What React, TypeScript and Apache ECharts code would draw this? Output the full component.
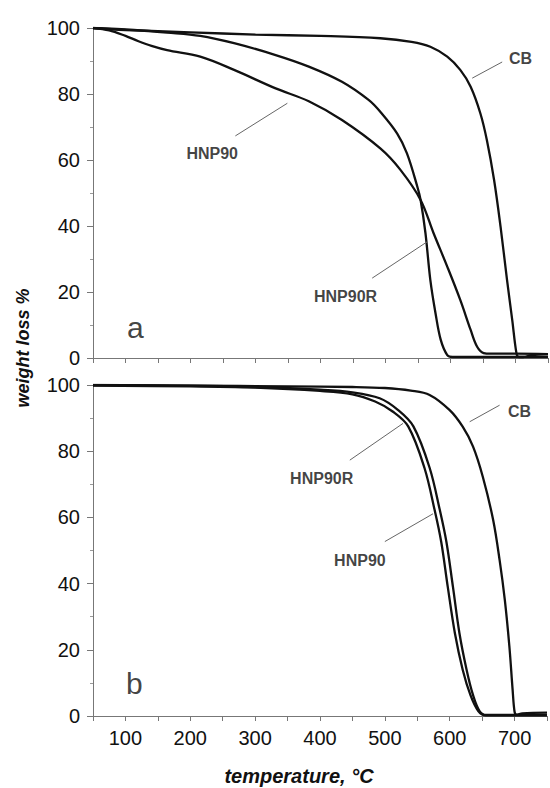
import React, { useEffect, useRef } from 'react';
import * as echarts from 'echarts';

// Panel a
const cbA = [[50,100],[100,99.4],[200,98.7],[300,98],[400,97.6],[492,96.9],[540,95.8],[569,94.3],[595,91.3],[615,87.3],[631,82.2],[646,74.1],[656,66],[667,54],[677,39.8],[687,23.6],[695,11.5],[701.5,1.4],[705,0.3],[712,0.3],[725,0.9],[750,1.2]];
const hnp90rA = [[50,100],[113,99.4],[164,98.6],[215,97.6],[267,95.4],[331,91.8],[382,88.3],[433,83.7],[474,78.2],[492,74.6],[518,68],[533,62],[549,51.9],[554,47.9],[561.5,37.8],[569,23.6],[577,13.5],[585,5.5],[595,0.9],[603,0.3],[750,0.3]];
const hnp90A = [[50,100],[75,99.3],[100,97.6],[120,96],[140,94.6],[164,93.3],[215,91.3],[267,87.3],[331,81.7],[382,77.8],[433,72.1],[492,63.5],[523,57],[554,47.9],[574,37.8],[595,27.7],[615,17.6],[631,8.5],[641,3.4],[651,1.5],[662,1.3],[700,1.3],[750,1.2]];
// Panel b
const cbB = [[50,100],[200,99.8],[350,99.6],[450,99.4],[500,99.1],[540,98.3],[569,97],[600,92.4],[620,87.4],[636,81.4],[651,72.3],[667,59.2],[677,47],[685,35],[692,21],[697,7.9],[700,1.3],[703,0.4],[712,0.8],[750,1]];
const hnp90rB = [[50,100],[200,99.8],[300,99.4],[400,98.6],[450,97.8],[492,96],[520,92.5],[544,87.5],[569,75],[585,62],[595,52.5],[605,39],[615,25],[626,14],[636,6.3],[646,1.5],[656,0.3],[750,0.3]];
const hnp90B = [[50,99.8],[200,99.6],[300,99.2],[400,98.2],[450,97.2],[485,95],[512,92],[536,87.5],[561,75],[577,62],[587,52.5],[597,39],[608,25],[620,14],[632,6.3],[644,1.5],[655,0.2],[750,0.2]];

// Annotation labels [T, value, text]
const labelsA = [[707.7, 90.9, 'CB'], [233.4, 62.1, 'HNP90'], [438.5, 18.6, 'HNP90R']];
const labelsB = [[707.7, 91.9, 'CB'], [402.6, 71.8, 'HNP90R'], [461.5, 47.1, 'HNP90']];
const panelA = [[115, 9.1, 'a']];
const panelB = [[113.8, 9.7, 'b']];
// Leader lines
const leadersA = [
  [[633.4, 84.8], [679.5, 89.7]],
  [[269, 67.3], [349, 77.2]],
  [[479.5, 24.2], [564, 35.2]],
];
const leadersB = [
  [[630.8, 88.9], [676.9, 93.9]],
  [[446, 77.3], [528, 88.4]],
  [[500, 52.7], [574.3, 61.1]],
];

const xTicksInterval = 50;
const yTicksInterval = 20;

const FONT = 'Liberation Sans, Arial, sans-serif';

function xAxis(gridIndex: number, showLabels: boolean) {
  return {
    type: 'value', gridIndex, min: 50, max: 750, interval: xTicksInterval,
    axisLine: { show: true, lineStyle: { color: '#777', width: 1 } },
    axisTick: { show: true, length: 5, inside: false, lineStyle: { color: '#777' } },
    axisLabel: {
      show: showLabels, margin: 12, color: '#111', fontSize: 20, fontFamily: FONT,
      formatter: (v: number) => (v % 100 === 0 ? String(v) : ''),
    },
    splitLine: { show: false },
  };
}
function yAxis(gridIndex: number) {
  return {
    type: 'value', gridIndex, min: 0, max: 100, interval: yTicksInterval,
    axisLine: { show: true, lineStyle: { color: '#777', width: 1 } },
    axisTick: { show: true, length: 6, lineStyle: { color: '#777' } },
    minorTick: { show: true, splitNumber: 2, length: 3, lineStyle: { color: '#999' } },
    axisLabel: { margin: 13, color: '#111', fontSize: 20, fontFamily: FONT },
    splitLine: { show: false },
  };
}
function curve(data: number[][], idx: number) {
  return {
    type: 'line', data, xAxisIndex: idx, yAxisIndex: idx, showSymbol: false, smooth: 0.35,
    lineStyle: { color: '#111', width: 2.3 }, silent: true,
  };
}
function leader(data: number[][], idx: number) {
  return {
    type: 'line', data, xAxisIndex: idx, yAxisIndex: idx, showSymbol: false,
    lineStyle: { color: '#666', width: 1 }, silent: true,
  };
}
function labels(data: any[], idx: number, size: number, bold: boolean) {
  return {
    type: 'scatter', data, xAxisIndex: idx, yAxisIndex: idx, symbolSize: 0, silent: true,
    label: {
      show: true, position: 'inside', formatter: (p: any) => p.value[2],
      fontSize: size, fontWeight: bold ? 'bold' : 'normal', color: '#111', fontFamily: FONT,
    },
  };
}

export default function App() {
  const ref = useRef<HTMLDivElement>(null);
  useEffect(() => {
    const chart = echarts.init(ref.current!, null, { renderer: 'svg' });
    chart.setOption({
      animation: false,
      backgroundColor: '#fff',
      grid: [
        { left: 93, top: 28, width: 455, height: 330 },
        { left: 93, top: 385, width: 455, height: 331 },
      ],
      xAxis: [xAxis(0, false), xAxis(1, true)],
      yAxis: [yAxis(0), yAxis(1)],
      graphic: [
        {
          type: 'text', x: 23, y: 348, rotation: Math.PI / 2,
          style: {
            text: 'weight loss %', fontSize: 18, fontWeight: 'bold', fontStyle: 'italic',
            fill: '#111', fontFamily: FONT, textAlign: 'center', textVerticalAlign: 'middle',
          },
        },
        {
          type: 'text', x: 299, y: 776,
          style: {
            text: 'temperature, °C', fontSize: 20, fontWeight: 'bold', fontStyle: 'italic',
            fill: '#111', fontFamily: FONT, textAlign: 'center', textVerticalAlign: 'middle',
          },
        },
      ],
      series: [
        curve(cbA, 0), curve(hnp90rA, 0), curve(hnp90A, 0),
        curve(cbB, 1), curve(hnp90rB, 1), curve(hnp90B, 1),
        ...leadersA.map((d) => leader(d, 0)),
        ...leadersB.map((d) => leader(d, 1)),
        labels(labelsA, 0, 16, true), labels(labelsB, 1, 16, true),
        labels(panelA, 0, 30, false), labels(panelB, 1, 30, false),
      ],
    });
    return () => chart.dispose();
  }, []);
  return <div ref={ref} style={{ position: 'fixed', left: 0, top: 0, width: 550, height: 788, background: '#fff' }} />;
}
